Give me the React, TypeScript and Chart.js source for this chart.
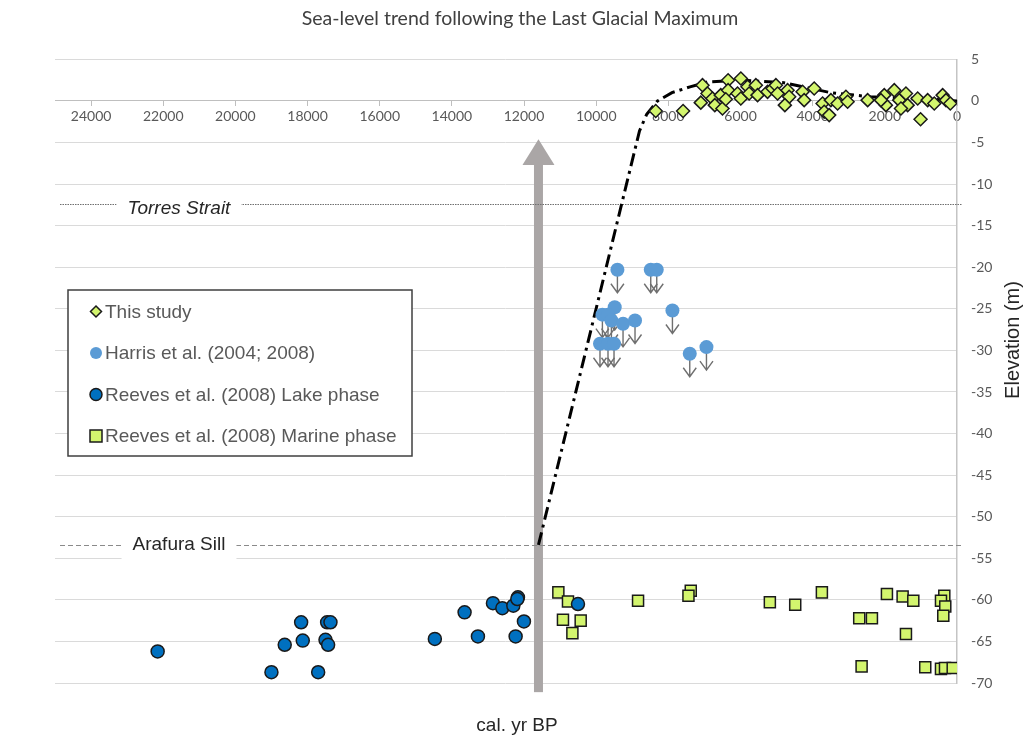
import { useEffect, useRef } from 'react';
import { Chart, registerables } from 'chart.js';

Chart.register(...registerables);

// ---------- text ----------
const TITLE = 'Sea-level trend following the Last Glacial Maximum';
const X_TITLE = 'cal. yr BP';
const Y_TITLE = 'Elevation (m)';
const SERIES_LABELS = [
  'This study',
  'Harris et al. (2004; 2008)',
  'Reeves et al. (2008) Lake phase',
  'Reeves et al. (2008) Marine phase',
];

// ---------- data ----------
const thisStudyAge = [
  8350, 7592, 7054, 7101, 6916, 6777, 6713, 6547, 6500, 6344, 6344, 6408, 6083, 5991, 5991,
  5806, 5761, 5575, 5528, 5251, 5112, 5020, 4973, 4696, 4651, 4771, 4280, 4236, 3958, 3725,
  3680, 3542, 3495, 3310, 3079, 3032, 2477, 2016, 1970, 2108, 1739, 1600, 1415, 1368, 1553,
  1010, 1090, 813, 630, 397, 305, 186,
];
const thisStudyElev = [
  -1.2, -1.2, 1.9, -0.2, 0.9, 0.3, -0.5, 0.7, -0.9, 2.5, 1.3, 0.2, 0.9, 2.7, 0.3,
  1.7, 0.9, 1.9, 0.7, 1.1, 1.5, 1.9, 0.9, 1.3, 0.5, -0.5, 1.1, 0.1, 1.5, -0.3,
  -1.3, -1.7, 0.1, -0.3, 0.5, -0.1, 0.1, 0.7, -0.5, 0.1, 1.3, 0.1, 0.9, -0.5, -0.9,
  -2.2, 0.3, 0.1, -0.3, 0.7, 0.1, -0.3,
];

const harrisAge = [9412, 8488, 8322, 9487, 9828, 9673, 9578, 9256, 8924, 7887, 9895, 9673, 9506, 7407, 6944];
const harrisElev = [-20.3, -20.3, -20.3, -24.8, -25.7, -25.7, -26.4, -26.8, -26.4, -25.2, -29.2, -29.2, -29.2, -30.4, -29.6];

const lakeAge = [
  22155, 19001, 18633, 18133, 18178, 17706, 17503, 17430, 17458, 17365, 14472,
  13648, 13278, 12862, 12602, 12297, 12169, 12186, 12003, 12233, 10505,
];
const lakeElev = [
  -66.2, -68.7, -65.4, -64.9, -62.7, -68.7, -64.8, -65.4, -62.7, -62.7, -64.7,
  -61.5, -64.4, -60.4, -61.0, -60.7, -59.7, -59.9, -62.6, -64.4, -60.5,
];

const marineAge = [
  11049, 10782, 10921, 10430, 10660, 8840, 7379, 7443, 5187, 4484, 3745, 2710, 2358,
  2644, 1942, 1507, 1211, 1415, 880, 352, 444, 325, 380, 444, 333, 119,
];
const marineElev = [
  -59.1, -60.2, -62.4, -62.5, -64.0, -60.1, -58.9, -59.5, -60.3, -60.6, -59.1, -62.2, -62.2,
  -68.0, -59.3, -59.6, -60.1, -64.1, -68.1, -59.5, -60.1, -60.8, -61.9, -68.3, -68.2, -68.2,
];

const seaLevelAge = [11600, 8800, 8600, 8300, 7900, 7400, 6900, 5900, 4800, 3500, 2400, 1000, 0];
const seaLevelElev = [-53.4, -3.6, -1.6, 0.0, 1.0, 1.7, 2.3, 2.5, 2.2, 1.0, 0.5, 0.3, 0.0];

// reference levels
const LEVEL_NAMES = ['Torres Strait', 'Arafura Sill'];
const LEVEL_ELEV = [-12.4, -53.4];

// gray arrow (age, bottom elevation, tip elevation, head base elevation)
const ARROW_AGE = 11600;
const ARROW_BOTTOM = -71.1;
const ARROW_TIP = -4.6;
const ARROW_HEAD_BASE = -7.7;

// axis settings
const X_MIN = 0;
const X_MAX = 25000;
const X_TICKS = [0, 2000, 4000, 6000, 8000, 10000, 12000, 14000, 16000, 18000, 20000, 22000, 24000];
const Y_MIN = -70;
const Y_MAX = 5;
const Y_STEP = 5;

const GREEN = '#d3f56e';
const LIGHT_BLUE = '#5b9bd5';
const DARK_BLUE = '#0070c0';
const ARIAL = '"Liberation Sans", Arial, sans-serif';
const CAL = 'Lato, "Open Sans", sans-serif';

const pts = (xs: number[], ys: number[]) => xs.map((x, i) => ({ x, y: ys[i] }));

function drawMarker(ctx: CanvasRenderingContext2D, kind: number, x: number, y: number) {
  ctx.save();
  ctx.lineWidth = 1.5;
  ctx.strokeStyle = '#1a1a1a';
  ctx.beginPath();
  if (kind === 0) {
    const r = 5.5;
    ctx.moveTo(x, y - r);
    ctx.lineTo(x + r, y);
    ctx.lineTo(x, y + r);
    ctx.lineTo(x - r, y);
    ctx.closePath();
    ctx.fillStyle = GREEN;
    ctx.fill();
    ctx.stroke();
  } else if (kind === 1) {
    ctx.arc(x, y, 6, 0, Math.PI * 2);
    ctx.fillStyle = LIGHT_BLUE;
    ctx.fill();
  } else if (kind === 2) {
    ctx.arc(x, y, 6, 0, Math.PI * 2);
    ctx.fillStyle = DARK_BLUE;
    ctx.fill();
    ctx.stroke();
  } else {
    ctx.rect(x - 6, y - 6, 12, 12);
    ctx.fillStyle = GREEN;
    ctx.fill();
    ctx.stroke();
  }
  ctx.restore();
}

const overlayPlugin = {
  id: 'overlay',
  beforeDatasetsDraw(chart: any) {
    const { ctx, chartArea, scales } = chart;
    const xs = scales.x;
    const ys = scales.y;
    ctx.save();

    // gray arrow
    const ax = xs.getPixelForValue(ARROW_AGE);
    const yb = ys.getPixelForValue(ARROW_BOTTOM);
    const yt = ys.getPixelForValue(ARROW_TIP);
    const yh = ys.getPixelForValue(ARROW_HEAD_BASE);
    ctx.fillStyle = '#aaa6a6';
    ctx.fillRect(ax - 4.5, yh, 9, yb - yh);
    ctx.beginPath();
    ctx.moveTo(ax - 16, yh);
    ctx.lineTo(ax, yt);
    ctx.lineTo(ax + 16, yh);
    ctx.closePath();
    ctx.fill();

    // reference levels
    LEVEL_NAMES.forEach((name, i) => {
      const py = Math.round(ys.getPixelForValue(LEVEL_ELEV[i])) + 0.5;
      ctx.save();
      ctx.strokeStyle = i === 0 ? '#6f6f6f' : '#8a8a8a';
      ctx.lineWidth = 1;
      ctx.setLineDash(i === 0 ? [1.5, 1] : [5, 3]);
      ctx.beginPath();
      ctx.moveTo(chartArea.left + 5, py);
      ctx.lineTo(chartArea.right + 5, py);
      ctx.stroke();
      ctx.restore();

      ctx.font = (i === 0 ? 'italic ' : '') + '19px ' + ARIAL;
      const w = ctx.measureText(name).width;
      const cx = chartArea.left + 124;
      const pad = 11;
      ctx.fillStyle = '#ffffff';
      if (i === 0) ctx.fillRect(cx - w / 2 - pad, py - 12, w + 2 * pad, 24);
      else ctx.fillRect(cx - w / 2 - pad, py - 13, w + 2 * pad, 27);
      ctx.fillStyle = '#262626';
      ctx.textAlign = 'center';
      ctx.textBaseline = 'middle';
      ctx.fillText(name, cx, py + (i === 0 ? 4 : -1));
    });

    // downward arrows under Harris samples
    ctx.strokeStyle = '#6f6f6f';
    ctx.lineWidth = 1.4;
    harrisAge.forEach((a, i) => {
      const px = xs.getPixelForValue(a);
      const py = ys.getPixelForValue(harrisElev[i]);
      const tip = py + 23;
      ctx.beginPath();
      ctx.moveTo(px, py);
      ctx.lineTo(px, tip);
      ctx.moveTo(px - 6.5, tip - 9);
      ctx.lineTo(px, tip);
      ctx.lineTo(px + 6.5, tip - 9);
      ctx.stroke();
    });
    ctx.restore();
  },
  afterDraw(chart: any) {
    const { ctx, chartArea } = chart;
    ctx.save();
    // title
    ctx.fillStyle = '#404040';
    ctx.font = '19.5px ' + CAL;
    ctx.textAlign = 'center';
    ctx.textBaseline = 'middle';
    ctx.fillText(TITLE, 520, 19);

    // x title
    ctx.fillStyle = '#262626';
    ctx.font = '19px ' + ARIAL;
    ctx.fillText(X_TITLE, 517, 726);

    // y title
    ctx.save();
    ctx.translate(1013, 340);
    ctx.rotate(-Math.PI / 2);
    ctx.font = '20px ' + ARIAL;
    ctx.fillText(Y_TITLE, 0, 0);
    ctx.restore();

    // legend
    const lx = chartArea.left + 13;
    const ly = 290;
    ctx.fillStyle = '#ffffff';
    ctx.fillRect(lx, ly, 344, 166);
    ctx.strokeStyle = '#3f3f3f';
    ctx.lineWidth = 1.5;
    ctx.strokeRect(lx, ly, 344, 166);
    ctx.font = '19px ' + ARIAL;
    ctx.textAlign = 'left';
    SERIES_LABELS.forEach((label, i) => {
      const y = ly + 21.5 + i * 41.5;
      drawMarker(ctx, i, lx + 28, y);
      ctx.fillStyle = '#595959';
      ctx.fillText(label, lx + 37, y + 1);
    });
    ctx.restore();
  },
};

export default function App() {
  const ref = useRef<HTMLCanvasElement>(null);
  useEffect(() => {
    document.body.style.margin = '0';
    const canvas = ref.current;
    if (!canvas) return;
    const chart = new Chart(canvas, {
      type: 'scatter',
      data: {
        datasets: [
          {
            label: SERIES_LABELS[0],
            data: pts(thisStudyAge, thisStudyElev),
            pointStyle: 'rectRot',
            pointRadius: 6.5,
            backgroundColor: GREEN,
            borderColor: '#1a1a1a',
            borderWidth: 1.5,
          },
          {
            label: SERIES_LABELS[1],
            data: pts(harrisAge, harrisElev),
            pointStyle: 'circle',
            pointRadius: 7,
            backgroundColor: LIGHT_BLUE,
            borderWidth: 0,
          },
          {
            label: SERIES_LABELS[2],
            data: pts(lakeAge, lakeElev),
            pointStyle: 'circle',
            pointRadius: 6.5,
            backgroundColor: DARK_BLUE,
            borderColor: '#1a1a1a',
            borderWidth: 1.5,
          },
          {
            label: SERIES_LABELS[3],
            data: pts(marineAge, marineElev),
            pointStyle: 'rect',
            pointRadius: 7.8,
            backgroundColor: GREEN,
            borderColor: '#1a1a1a',
            borderWidth: 1.5,
          },
          {
            label: 'Sea level',
            data: pts(seaLevelAge, seaLevelElev),
            showLine: true,
            pointRadius: 0,
            borderColor: '#000000',
            borderWidth: 3,
            borderDash: [13, 5, 3, 5],
            tension: 0,
            fill: false,
          },
        ],
      },
      options: {
        responsive: false,
        animation: false,
        events: [],
        layout: { padding: { left: 55, top: 59.4, right: 0, bottom: 55 } },
        plugins: {
          legend: { display: false },
          title: { display: false },
          tooltip: { enabled: false },
        },
        scales: {
          x: {
            type: 'linear',
            reverse: true,
            min: X_MIN,
            max: X_MAX,
            position: { y: 0 },
            afterBuildTicks: (scale: any) => {
              scale.ticks = X_TICKS.map((value) => ({ value }));
            },
            ticks: {
              autoSkip: false,
              maxRotation: 0,
              minRotation: 0,
              color: '#595959',
              font: { family: CAL, size: 14 },
              padding: 2,
              callback: (v: any) => String(v),
            },
            grid: {
              drawOnChartArea: false,
              drawTicks: true,
              tickLength: 5,
              color: '#bfbfbf',
            },
            border: { color: '#bfbfbf', width: 1 },
          },
          y: {
            type: 'linear',
            position: 'right',
            min: Y_MIN,
            max: Y_MAX,
            afterFit: (scale: any) => {
              scale.width = 73;
            },
            ticks: {
              stepSize: Y_STEP,
              color: '#595959',
              font: { family: CAL, size: 14 },
              padding: 14,
            },
            grid: { color: '#dadada', lineWidth: 1, drawTicks: false },
            border: { color: '#c4c4c4', width: 1.5 },
          },
        },
      },
      plugins: [overlayPlugin],
    } as any);
    return () => chart.destroy();
  }, []);
  return (
    <div style={{ width: 1030, height: 738 }}>
      <canvas ref={ref} width={1030} height={738} style={{ display: 'block' }} />
    </div>
  );
}
